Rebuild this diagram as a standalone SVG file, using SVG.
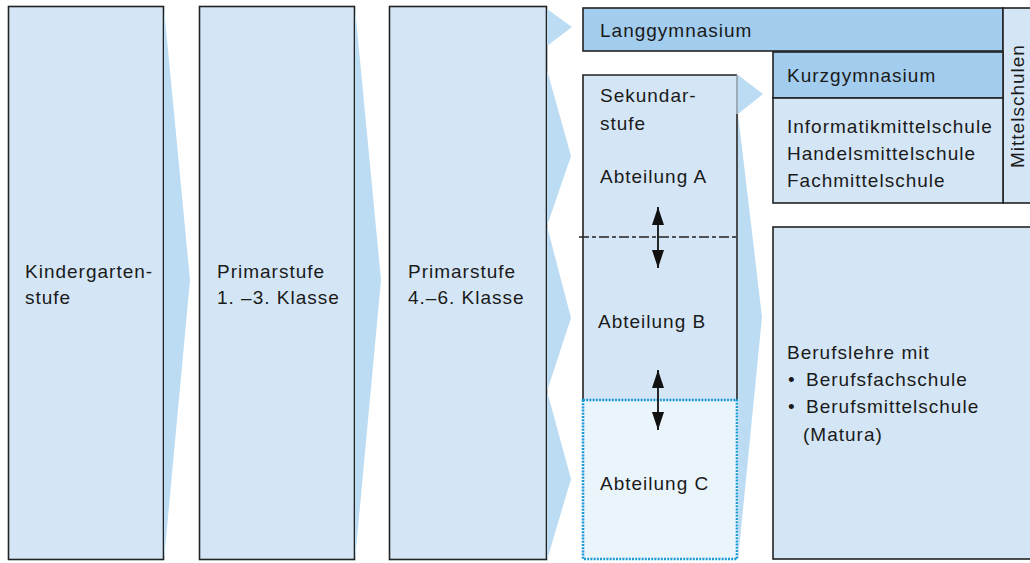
<svg xmlns="http://www.w3.org/2000/svg" width="1030" height="563" viewBox="0 0 1030 563">
<defs>
<style>
.box{fill:#d4e6f6;stroke:#222;stroke-width:1.6}
.dark{fill:#a3cdee;stroke:#222;stroke-width:1.6}
.chev{fill:#bcdcf3;stroke:none}
.t{font-family:"Liberation Sans",Arial,sans-serif;font-size:19px;letter-spacing:1px;fill:#1a1a1a}
.arr{stroke:#111;stroke-width:1.8;fill:none}
</style>
<marker id="ah" viewBox="0 0 18 12" refX="18" refY="6" markerWidth="18" markerHeight="12" markerUnits="userSpaceOnUse" orient="auto-start-reverse">
<path d="M0,0 L18,6 L0,12 Z" fill="#111"/>
</marker>
</defs>
<rect width="1030" height="563" fill="#ffffff"/>

<g id="kindergarten">
<rect class="box" x="8.5" y="6.5" width="155" height="553"/>
<text class="t" x="25" y="278">Kindergarten-</text>
<text class="t" x="25" y="304">stufe</text>
</g>

<g id="primar13">
<rect class="box" x="199.5" y="6.5" width="155" height="553"/>
<text class="t" x="217" y="278">Primarstufe</text>
<text class="t" x="217" y="304">1. –3. Klasse</text>
</g>

<g id="primar46">
<rect class="box" x="389.5" y="6.5" width="157" height="553"/>
<text class="t" x="408" y="278">Primarstufe</text>
<text class="t" x="408" y="304">4.–6. Klasse</text>
</g>

<g id="sekundarstufe">
<rect x="583" y="75" width="154" height="325" fill="#d4e6f6"/>
<path d="M583,400 L583,75 L737,75" fill="none" stroke="#222" stroke-width="1.6"/>
<line x1="737" y1="75" x2="737" y2="114" stroke="#8a9aa6" stroke-width="1.6"/>
<line x1="737" y1="114" x2="737" y2="400" stroke="#222" stroke-width="1.6"/>
<line x1="579" y1="237" x2="737" y2="237" stroke="#222" stroke-width="1.5" stroke-dasharray="10 3 4 3"/>
<text class="t" x="600" y="102">Sekundar-</text>
<text class="t" x="600" y="130">stufe</text>
<text class="t" x="600" y="183">Abteilung A</text>
<text class="t" x="598" y="328">Abteilung B</text>
</g>

<g id="abteilungC">
<rect x="583" y="400" width="154" height="159" fill="#eaf4fb" stroke="#1b9ad8" stroke-width="2.6" stroke-dasharray="2 1.2"/>
<text class="t" x="600" y="490">Abteilung C</text>
</g>

<g id="langgymnasium">
<rect class="dark" x="583" y="8" width="420" height="43"/>
<text class="t" x="600" y="37">Langgymnasium</text>
</g>

<g id="mittelschulen">
<rect class="box" x="1003" y="8" width="40" height="195"/>
<text class="t" transform="translate(1024,168) rotate(-90)">Mittelschulen</text>
</g>

<g id="kurzgymnasium">
<rect class="dark" x="773" y="52" width="230" height="46"/>
<text class="t" x="787" y="82">Kurzgymnasium</text>
</g>

<g id="weitere-mittelschulen">
<rect class="box" x="773" y="98" width="230" height="105"/>
<text class="t" x="787" y="133">Informatikmittelschule</text>
<text class="t" x="787" y="160">Handelsmittelschule</text>
<text class="t" x="787" y="187">Fachmittelschule</text>
</g>

<g id="berufslehre">
<rect class="box" x="773" y="227" width="270" height="332"/>
<text class="t" x="787" y="359">Berufslehre mit</text>
<text class="t" x="788" y="386">•</text>
<text class="t" x="806" y="386">Berufsfachschule</text>
<text class="t" x="788" y="413">•</text>
<text class="t" x="806" y="413">Berufsmittelschule</text>
<text class="t" x="803" y="441">(Matura)</text>
</g>

<g id="connectors">
<polygon class="chev" points="164,8 190,280 164,560"/>
<polygon class="chev" points="355,8 381,280 355,560"/>
<polygon class="chev" points="547,9 572,27 547,46"/>
<polygon class="chev" points="547,70 571,156 547,226"/>
<polygon class="chev" points="547,226 571,318 547,391"/>
<polygon class="chev" points="547,391 571,479 547,560"/>
<polygon class="chev" points="738,75 763,94 738,114"/>
<polygon class="chev" points="738,114 762,317 738,560"/>
<line class="arr" x1="658" y1="207" x2="658" y2="268" marker-start="url(#ah)" marker-end="url(#ah)"/>
<line class="arr" x1="658" y1="370" x2="658" y2="430" marker-start="url(#ah)" marker-end="url(#ah)"/>
</g>
</svg>
